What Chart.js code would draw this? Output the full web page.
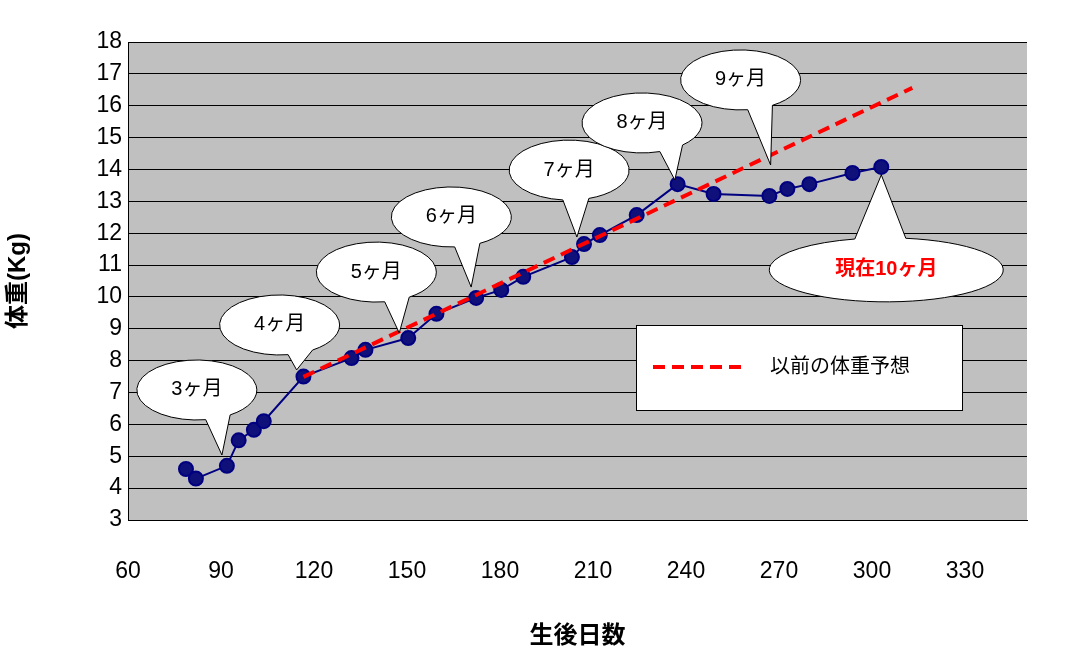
<!DOCTYPE html>
<html><head><meta charset="utf-8">
<script src="https://cdn.jsdelivr.net/npm/chart.js@4"></script>
<style>html,body{margin:0;background:#fff}#wrap{width:1073px;height:655px}</style>
</head><body><div id="wrap"><canvas id="c" width="1073" height="655"></canvas></div>
<script>
const days=[78.7,81.9,91.9,95.7,100.6,103.8,116.6,132.1,136.6,150.4,159.5,172.3,180.4,187.5,203.2,207.1,212.2,224.1,237.3,248.9,266.9,272.7,279.8,293.7,303.0];
const weights=[4.6,4.3,4.7,5.5,5.83,6.1,7.5,8.08,8.34,8.71,9.47,9.97,10.22,10.63,11.25,11.66,11.94,12.57,13.54,13.23,13.17,13.39,13.54,13.89,14.08];
const forecastDays=[116.6,313];
const forecastWeights=[7.49,16.56];
const calloutLabels=['3ヶ月','4ヶ月','5ヶ月','6ヶ月','7ヶ月','8ヶ月','9ヶ月','現在10ヶ月'];
const calloutCenters=[[82.2,7.08],[108.9,9.12],[140.1,10.78],[164.3,12.51],[202.3,13.98],[225.8,15.46],[257.6,16.81],[304.6,10.85]];
const calloutTips=[[90.3,5.04],[114.4,7.71],[147.5,8.87],[170.7,10.31],[204.8,11.88],[236.4,13.67],[267.3,14.14],[303,13.83]];
const legendLabel='以前の体重予想';
const FONT='"Liberation Sans","Noto Sans CJK JP",sans-serif';

const deco={id:'deco',
 beforeDraw(ch){const {ctx,chartArea:a}=ch;ctx.save();ctx.fillStyle='#c0c0c0';ctx.fillRect(a.left,a.top,a.right-a.left,a.bottom-a.top);ctx.restore();},
 afterDraw(ch){const {ctx,scales:{x,y}}=ch;ctx.save();
  calloutLabels.forEach((t,i)=>{const big=i===7;
   const cx=x.getPixelForValue(calloutCenters[i][0]),cy=y.getPixelForValue(calloutCenters[i][1]);
   const tx=x.getPixelForValue(calloutTips[i][0]),ty=y.getPixelForValue(calloutTips[i][1]);
   const rx=big?117:60,ry=big?32:30;
   const ang=Math.atan2(ty-cy,tx-cx);
   const a1=ang-0.22,a2=ang+0.22;
   ctx.beginPath();
   ctx.ellipse(cx,cy,rx,ry,0,a2,a1+2*Math.PI);
   ctx.lineTo(tx,ty);ctx.closePath();
   ctx.fillStyle='#fff';ctx.fill();ctx.strokeStyle='#000';ctx.lineWidth=1;ctx.stroke();
   ctx.fillStyle=big?'#ff0000':'#000';ctx.font=(big?'bold ':'')+'20px '+FONT;
   ctx.textAlign='center';ctx.textBaseline='middle';ctx.fillText(t,cx,cy);
  });
  // legend
  ctx.fillStyle='#fff';ctx.fillRect(636,325,326,85);ctx.strokeStyle='#000';ctx.strokeRect(636.5,325.5,326,85);
  ctx.strokeStyle='#ff0000';ctx.lineWidth=4;ctx.setLineDash([12,7]);ctx.beginPath();ctx.moveTo(653,367);ctx.lineTo(745,367);ctx.stroke();ctx.setLineDash([]);
  ctx.fillStyle='#000';ctx.font='20px '+FONT;ctx.textAlign='left';ctx.textBaseline='middle';ctx.fillText(legendLabel,770,367);
  ctx.restore();}};

new Chart(document.getElementById('c'),{type:'scatter',
 data:{datasets:[
  {data:forecastDays.map((d,i)=>({x:d,y:forecastWeights[i]})),showLine:true,borderColor:'#ff0000',borderWidth:4,borderDash:[12,7],pointRadius:0},
  {data:days.map((d,i)=>({x:d,y:weights[i]})),showLine:true,borderColor:'#000080',backgroundColor:'#000080',borderWidth:2,pointRadius:7,pointBackgroundColor:'#10107a'}
 ]},
 plugins:[deco],
 options:{responsive:false,animation:false,layout:{padding:{top:42,right:46,left:0,bottom:0}},
  plugins:{legend:{display:false},tooltip:{enabled:false}},
  scales:{
   x:{min:60,max:350,afterFit(s){s.height=135;},afterBuildTicks(s){s.ticks=[60,90,120,150,180,210,240,270,300,330].map(v=>({value:v}));},
      grid:{display:false,drawTicks:true,tickLength:8},border:{color:'#000'},
      ticks:{color:'#000',font:{size:23,family:FONT},padding:30,maxRotation:0},
      title:{display:true,text:'生後日数',color:'#000',font:{size:24,weight:'bold',family:FONT},padding:{top:10}}},
   y:{min:3,max:18,afterFit(s){s.width=128;},ticks:{stepSize:1,color:'#000',font:{size:23,family:FONT},padding:6},
      grid:{color:'#000',drawTicks:false},border:{color:'#000'},
      title:{display:true,text:'体重(Kg)',color:'#000',font:{size:24,weight:'bold',family:FONT},padding:{bottom:4}}}
  }}});
</script></body></html>
